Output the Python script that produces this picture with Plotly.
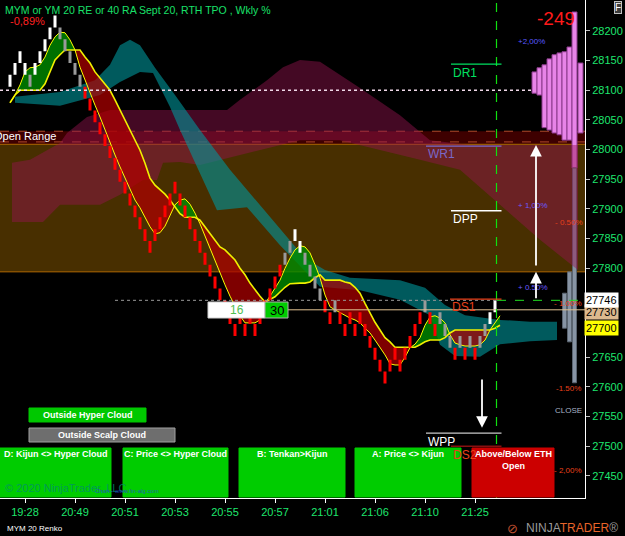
import plotly.graph_objects as go

FONT = "Arial, Liberation Sans, sans-serif"

# ---------------- data ----------------
BRICK = 20
brick_low = [28106, 28126, 28146, 28126, 28106, 28126, 28146, 28166, 28186, 28206,
             28186, 28166, 28146, 28126, 28106, 28086, 28066, 28046, 28026, 28006,
             27986, 27966, 27946, 27926, 27906, 27886, 27866, 27846, 27826, 27846,
             27866, 27886, 27906, 27926, 27906, 27886, 27866, 27846, 27826, 27806,
             27786, 27766, 27746, 27726, 27706, 27686, 27706, 27686, 27706, 27686,
             27706, 27726, 27746, 27766, 27786, 27806, 27826, 27846, 27826, 27806,
             27786, 27766, 27746, 27726, 27706, 27726, 27706, 27686, 27706, 27686,
             27706, 27686, 27666, 27646, 27626, 27606, 27626, 27646, 27626, 27646,
             27666, 27686, 27706, 27726, 27706, 27686, 27706, 27686, 27666, 27646,
             27666, 27646, 27666, 27646, 27666, 27686, 27706, 27726]
brick_kind = ("WWWWGWWWWWGGGGG" + "R" * 40 + "GGWWGGGGRRG" + "R" * 17 + "GRRGGGRGRGRGGWW")

fast_line = [28079, 28092, 28109, 28131, 28138, 28139, 28143, 28156, 28176, 28190,
             28198, 28197, 28185, 28168, 28139, 28117, 28095, 28075, 28055, 28033,
             28011, 27991, 27971, 27952, 27932, 27915, 27902, 27885, 27870, 27858,
             27860, 27871, 27890, 27907, 27915, 27917, 27908, 27893, 27875, 27854,
             27834, 27814, 27794, 27772, 27753, 27736, 27720, 27708, 27708, 27708,
             27713, 27741, 27753, 27767, 27780, 27800, 27817, 27831, 27838, 27836,
             27826, 27806, 27784, 27755, 27735, 27730, 27725, 27720, 27716, 27713,
             27708, 27699, 27691, 27679, 27667, 27654, 27639, 27637, 27637, 27650,
             27666, 27672, 27683, 27704, 27718, 27720, 27716, 27708, 27688, 27674,
             27671, 27669, 27669, 27669, 27671, 27679, 27696, 27709, 27720]
slow_line = [28079, 28092, 28100, 28100, 28100, 28100, 28100, 28111, 28131, 28151,
             28160, 28168, 28168, 28168, 28168, 28156, 28146, 28131, 28121, 28111,
             28100, 28084, 28067, 28050, 28033, 28016, 27999, 27977, 27952, 27940,
             27932, 27925, 27915, 27903, 27892, 27886, 27886, 27886, 27881, 27870,
             27860, 27848, 27836, 27831, 27822, 27814, 27800, 27789, 27775, 27763,
             27753, 27743, 27747, 27752, 27760, 27768, 27774, 27775, 27775, 27775,
             27777, 27784, 27789, 27780, 27780, 27780, 27780, 27777, 27775, 27768,
             27758, 27741, 27725, 27709, 27696, 27683, 27676, 27667, 27667, 27667,
             27667, 27667, 27671, 27676, 27679, 27679, 27679, 27683, 27691, 27696,
             27696, 27696, 27696, 27696, 27696, 27696, 27696, 27699, 27704]

teal_x = [1, 10, 17, 20, 22, 24, 26, 29, 33, 38, 44, 50, 55, 59, 63, 68, 78, 83, 87, 91, 98, 104, 109.4,
          109.4, 104, 98, 94, 89, 86, 84, 78, 70, 62, 54, 47.4, 41.4, 34, 32, 28.6, 26, 22, 18, 10, 1]
teal_p = [28089, 28097, 28117, 28143, 28176, 28185, 28176, 28138, 28092, 28033, 27966, 27907, 27856, 27817,
          27797, 27784, 27780, 27767, 27738, 27721, 27713, 27710, 27710,
          27679, 27677, 27672, 27651, 27652, 27671, 27721, 27747, 27763, 27769, 27839, 27903, 27898, 28033,
          28072, 28129, 28131, 28114, 28092, 28074, 28079]

maroon_x = [0.4, 4, 7.4, 10, 11.4, 15.4, 20, 43.4, 46, 51.4, 54.6, 58, 62, 70, 78, 84, 92, 113.6,
            113.6, 106, 98, 90, 82, 74, 66, 58, 50, 42, 38, 34, 30.6, 29.4, 26.6, 22, 18, 10, 6.6, 0.4]
maroon_p = [27978, 27983, 27999, 28011, 28028, 28055, 28067, 28067, 28084, 28117, 28139, 28151, 28148,
            28104, 28058, 28016, 28008, 28008,
            27797, 27848, 27907, 27966, 27983, 27999, 28016, 28016, 27999, 27983, 27974, 27979, 27978,
            27949, 27949, 27924, 27907, 27907, 27878, 27878]

profile_x = [104.9, 105.9, 106.9, 107.9, 108.9, 109.9, 110.9, 111.9, 112.9, 114.1]
profile_hi = [28131, 28138, 28143, 28153, 28160, 28163, 28165, 28173, 28232, 28146]
profile_lo = [28095, 28092, 28037, 28033, 28028, 28025, 28016, 28016, 27969, 28028]
close_x = [110.9, 111.9, 112.9]
close_hi = [27758, 27794, 27969]
close_lo = [27699, 27676, 27607]

time_labels = ["19:28", "20:49", "20:51", "20:53", "20:55", "20:57", "21:01", "21:06", "21:10", "21:25"]
time_pos = [3, 13, 23, 33, 43, 53, 63, 73, 83, 93]
price_ticks = [27450, 27500, 27550, 27600, 27650, 27800, 27850, 27900, 27950, 28000, 28050, 28100, 28150, 28200]

level_names = ["DR1", "WR1", "DPP", "DS1", "WPP", "DS2"]
level_prices = [28144, 28006, 27897, 27748, 27522, 27500]
level_x0 = [88.2, 83.2, 88.2, 88.0, 83.2, 88.2]
level_colors = ["#00e060", "#7a68c8", "#ffffff", "#e8401a", "#c8c8c8", "#8a1010"]
level_text_colors = ["#00e060", "#7a68c8", "#ffffff", "#e8401a", "#ffffff", "#e8401a"]

pct_text = ["+2,00%", "+ 1,00%", "+ 0.50%", "- 0.50%", "- 1.00%", "-1.50%", "- 2,00%"]
pct_price = [28183, 27905, 27768, 27878, 27740, 27598, 27460]
pct_x = [104.2, 104.6, 104.6, 111.8, 111.6, 111.6, 111.6]
pct_colors = ["#5a5aff", "#6a5aff", "#6a5aff", "#e8401a", "#e8401a", "#e8401a", "#e8401a"]

current_price = 27746
eth_open = 28100
tan_level = 27730
open_range_hi = 28009
open_range_lo = 27794
or_strip_hi = 28031
or_strip_mid = 28013

# ---------------- figure ----------------
fig = go.Figure()

fig.add_trace(go.Scatter(x=maroon_x, y=maroon_p, fill="toself", mode="lines",
                         line=dict(width=0), fillcolor="rgba(150,20,80,0.45)", hoverinfo="skip"))
fig.add_trace(go.Scatter(x=teal_x, y=teal_p, fill="toself", mode="lines",
                         line=dict(width=0), fillcolor="rgba(0,150,155,0.6)", hoverinfo="skip"))


def fill_runs(a, b):
    runs = []
    xs, ya, yb = [0], [a[0]], [b[0]]

    def sgn(v):
        return 1 if v > 0 else (-1 if v < 0 else 0)
    cur = 0
    for i in range(len(a)):
        d = a[i] - b[i]
        if sgn(d) != 0:
            cur = sgn(d)
            break
    for i in range(len(a) - 1):
        d0, d1 = a[i] - b[i], a[i + 1] - b[i + 1]
        s1 = sgn(d1)
        if s1 != 0 and s1 != cur and cur != 0:
            t = d0 / (d0 - d1) if d0 != d1 else 0
            xc = i + t
            yc = a[i] + t * (a[i + 1] - a[i])
            xs.append(xc); ya.append(yc); yb.append(yc)
            runs.append((xs, ya, yb, cur))
            xs, ya, yb = [xc], [yc], [yc]
            cur = s1
        xs.append(i + 1); ya.append(a[i + 1]); yb.append(b[i + 1])
    runs.append((xs, ya, yb, cur))
    return runs


for xs, ya, yb, s in fill_runs(fast_line, slow_line):
    col = "rgba(0,140,0,0.8)" if s > 0 else "rgba(175,0,0,0.72)"
    fig.add_trace(go.Scatter(x=xs + xs[::-1], y=ya + yb[::-1], fill="toself", mode="lines",
                             line=dict(width=0), fillcolor=col, hoverinfo="skip"))

xi = list(range(len(fast_line)))
fig.add_trace(go.Scatter(x=xi, y=slow_line, mode="lines", line=dict(color="#f0f000", width=1.6), hoverinfo="skip"))
fig.add_trace(go.Scatter(x=xi, y=fast_line, mode="lines", line=dict(color="#ffff00", width=1), hoverinfo="skip"))

# renko bricks
kind_color = {"W": "#ffffff", "G": "#9a9a9a", "R": "#ff0000"}
half = 0.3
for k, col in kind_color.items():
    bx, by = [], []
    for i, (lo, kk) in enumerate(zip(brick_low, brick_kind)):
        if kk != k:
            continue
        bx += [i - half, i + half, i + half, i - half, i - half, None]
        by += [lo, lo, lo + BRICK, lo + BRICK, lo, None]
    fig.add_trace(go.Scatter(x=bx, y=by, fill="toself", mode="lines", line=dict(width=0, color=col),
                             fillcolor=col, hoverinfo="skip"))

# profile columns
fig.add_trace(go.Bar(x=profile_x, y=[h - l for h, l in zip(profile_hi, profile_lo)], base=profile_lo,
                     width=1, marker=dict(color="#e884e8", line=dict(color="#8a3a8a", width=1))))
fig.add_trace(go.Bar(x=close_x, y=[h - l for h, l in zip(close_hi, close_lo)], base=close_lo,
                     width=0.8, marker=dict(color="#8794a4", line=dict(color="#5a6470", width=1))))

shapes = []
shapes.append(dict(type="rect", xref="paper", x0=0, x1=1, yref="y", y0=open_range_hi, y1=or_strip_hi,
                   fillcolor="rgb(62,0,0)", line_width=0, layer="below"))
shapes.append(dict(type="rect", xref="paper", x0=0, x1=1, yref="y", y0=open_range_lo, y1=open_range_hi,
                   fillcolor="rgb(72,47,0)", line_width=0, layer="below"))
for yv, dash, col in [(or_strip_hi, "dash", "#b04a2a"), (or_strip_mid, "dash", "#b04a2a"),
                      (open_range_hi, "solid", "#b06800"), (open_range_lo, "solid", "#b06800")]:
    shapes.append(dict(type="line", xref="paper", x0=0, x1=1, yref="y", y0=yv, y1=yv,
                       line=dict(color=col, width=1, dash=dash), layer="below"))
shapes.append(dict(type="line", xref="x", x0=-2, x1=104.4, yref="y", y0=eth_open, y1=eth_open,
                   line=dict(color="#f0d8e8", width=1.5, dash="dot")))
shapes.append(dict(type="line", xref="x", x0=21, x1=97.4, yref="y", y0=current_price, y1=current_price,
                   line=dict(color="#9a9a9a", width=1, dash="dot")))
shapes.append(dict(type="line", xref="x", x0=97.4, x1=115, yref="y", y0=current_price, y1=current_price,
                   line=dict(color="#20e020", width=1, dash="dash")))
shapes.append(dict(type="line", xref="x", x0=55.6, x1=115, yref="y", y0=tan_level, y1=tan_level,
                   line=dict(color="#e0c090", width=1)))
shapes.append(dict(type="line", xref="x", x0=97.3, x1=97.3, yref="paper", y0=0, y1=1,
                   line=dict(color="#10e010", width=1.2, dash="dash")))
for p, x0, c in zip(level_prices, level_x0, level_colors):
    shapes.append(dict(type="line", xref="x", x0=x0, x1=98.3, yref="y", y0=p, y1=p,
                       line=dict(color=c, width=1.3)))

W, H = 585.0, 498.0


def px_rect(x0, y0, x1, y1, fill, line_col=None):
    return dict(type="rect", xref="paper", yref="paper", x0=x0 / W, x1=x1 / W, y0=1 - y1 / H, y1=1 - y0 / H,
                fillcolor=fill, line=dict(color=line_col or fill, width=1), layer="above")


shapes.append(px_rect(208, 302, 265, 318, "#ffffff", "#d0d0d0"))
shapes.append(px_rect(265, 302, 288, 318, "#00cc00", "#b0b0b0"))
shapes.append(px_rect(29, 408, 146, 422, "#00c800"))
shapes.append(px_rect(29, 428, 175, 442, "#6e6e6e", "#a0a0a0"))
box_defs = [(0, 111, "#00cc00", "D: Kijun &lt;&gt; Hyper Cloud"),
            (123, 228, "#00cc00", "C: Price &lt;&gt; Hyper Cloud"),
            (239, 345, "#00cc00", "B: Tenkan&gt;Kijun"),
            (355, 461, "#00cc00", "A: Price &lt;&gt; Kijun"),
            (472, 554, "#cc0000", "Above/Below ETH<br>Open")]
for x0, x1, c, _ in box_defs:
    shapes.append(px_rect(x0, 448, x1, 497, c))

ann = []


def txt(text, x, y, xref="paper", yref="paper", size=12, color="white", xanchor="center", yanchor="middle", **kw):
    d = dict(text=text, x=x, y=y, xref=xref, yref=yref, showarrow=False,
             font=dict(size=size, color=color, family=FONT), xanchor=xanchor, yanchor=yanchor)
    d.update(kw)
    ann.append(d)


txt("16", 236.5 / W, 1 - 310 / H, size=12, color="#50c050")
txt("30", 276.5 / W, 1 - 310 / H, size=13, color="#000000")
txt("<b>Outside Hyper Cloud</b>", 87.5 / W, 1 - 414.5 / H, size=9)
txt("<b>Outside Scalp Cloud</b>", 102 / W, 1 - 434.5 / H, size=9)
for x0, x1, c, t in box_defs:
    txt("<b>" + t + "</b>", (x0 + x1) / 2 / W, 1 - 447 / H, size=9, yanchor="top")

txt("MYM or YM 20 RE or 40 RA Sept 20, RTH TPO , Wkly %", 3 / W, 1 - 10 / H, size=10.5, color="#19e06a",
    xanchor="left")
txt("-0,89%", 8 / W, 1 - 21 / H, size=11, color="#ff2020", xanchor="left")
txt("Open Range", 0, 28023, yref="y", size=11, color="#ffffff", xanchor="left", xshift=-8)
txt("-249", 556 / W, 1 - 18 / H, size=19, color="#ff1a1a")
txt("F", 617.5 / W, 1 - 7.5 / H, size=10, color="#ffffff", bgcolor="#3c3c3c", bordercolor="#c0c0c0",
    borderwidth=1, borderpad=0)
txt("© 2020 NinjaTrader, LLC", 3 / W, 1 - 488 / H, size=11, color="rgba(0,140,110,0.8)", xanchor="left")
txt("Chart - www.fin-alg.com", 93 / W, 1 - 491 / H, size=6, color="rgba(40,60,220,0.8)", xanchor="left")
txt("MYM 20 Renko", 5 / W, -30 / H, size=8, color="#ffffff", xanchor="left")
txt("<span style='color:#9a9a9a'>NINJA</span><span style='color:#e8642a'>TRADER</span>"
    "<span style='color:#9a9a9a'>®</span>", 524 / W, -30 / H, size=12, xanchor="left")
txt("⊘", 512 / W, -30 / H, size=13, color="#c05030")

for n, p, x0, c in zip(level_names, level_prices, level_x0, level_text_colors):
    txt(n, x0, p - 14, xref="x", yref="y", size=12, color=c, xanchor="left")
for t, p, x, c in zip(pct_text, pct_price, pct_x, pct_colors):
    txt(t, x, p, xref="x", yref="y", size=8, color=c)
txt("CLOSE", 111.6, 27561, xref="x", yref="y", size=8, color="#a8b4c8")

txt("27730", 584 / W, 27726, yref="y", size=11, color="#000000", xanchor="left", bgcolor="#dcb98e",
    borderpad=1)
txt("27700", 584 / W, 27699, yref="y", size=11, color="#000000", xanchor="left", bgcolor="#ffff00",
    borderpad=1)
txt("27746", 584 / W, 27746, yref="y", size=11, color="#000000", xanchor="left", bgcolor="#ffffff",
    borderpad=1)

for xa, y_tail, y_tip in [(105.2, 27802, 28008), (105.2, 27747, 27794), (94.4, 27615, 27531)]:
    ann.append(dict(x=xa, y=y_tip, ax=xa, ay=y_tail, xref="x", yref="y", axref="x", ayref="y",
                    showarrow=True, arrowhead=2, arrowsize=1.3, arrowwidth=1.8, arrowcolor="#ffffff", text=""))

fig.update_layout(
    width=625, height=536, margin=dict(l=0, r=40, t=0, b=38),
    paper_bgcolor="black", plot_bgcolor="black", showlegend=False, barmode="overlay",
    shapes=shapes, annotations=ann,
    xaxis=dict(range=[-2, 115], tickvals=time_pos, ticktext=time_labels, showgrid=False, zeroline=False,
               showline=True, linecolor="#ffffff", linewidth=1, ticks="outside", tickcolor="#ffffff",
               ticklen=4, automargin=False, tickfont=dict(color="#1ee66e", size=11, family=FONT)),
    yaxis=dict(range=[27412.8, 28252.2], side="right", tickvals=price_ticks, tickformat="d",
               showgrid=False, zeroline=False, automargin=False,
               showline=True, linecolor="#ffffff", linewidth=1, ticks="outside", tickcolor="#c0c0c0",
               ticklen=4, tickfont=dict(color="#1ee66e", size=11, family=FONT)),
)

fig.write_html("out.html")
